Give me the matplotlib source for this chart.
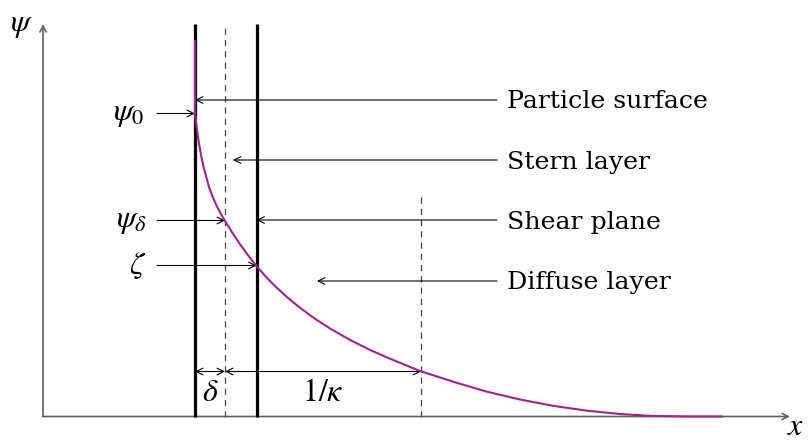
import matplotlib
matplotlib.use("Agg")
import matplotlib.pyplot as plt

plt.rcParams['font.family'] = ['DejaVu Serif', 'Liberation Serif']
plt.rcParams['mathtext.fontset'] = 'stix'

# ---- data (diagram units: x measured from the psi-axis, y above the x-axis) ----
curve_x = [152, 152, 152.8, 153.8, 155, 156.5, 158.3, 160.5, 163, 166, 169.5, 173.5,
           177.5, 182, 189, 197, 205, 213, 222, 232, 244, 257, 272, 287, 307,
           327, 347, 377, 410, 444, 477, 510, 544, 577, 610, 647, 680]
curve_y = [376.5, 303.5, 296.5, 288.5, 279.5, 270, 260, 250, 240.5, 229.5, 220, 211,
           203.2, 195.5, 184.3, 172.3, 161.3, 151.1, 140.7, 130.4, 119.4, 108.7, 97.7, 88, 76.6,
           66.6, 57.8, 45.5, 34.8, 24.8, 17, 10.7, 5.8, 2.5, 0.5, 0, 0]

surface_x = 152     # particle surface
stern_x = 182       # Stern plane (delta)
shear_x = 213.5     # shear plane
debye_x = 378       # delta + 1/kappa

psi0 = 303
psi_delta = 196
zeta = 151
psi_debye = 45

right_labels = ['Particle surface', 'Stern layer', 'Shear plane', 'Diffuse layer']
right_label_y = [316.5, 256.5, 196.5, 135.5]
right_label_target = [surface_x, 190, shear_x, 274]

left_labels = [r'$\psi_0$', r'$\psi_\delta$', r'$\zeta$']
left_label_y = [psi0, psi_delta, zeta]
left_label_target = [surface_x, stern_x, shear_x]
left_label_cx = [86, 88.5, 94.5]

fig = plt.figure(figsize=(8.09, 4.42), dpi=100)
ax = fig.add_axes([0, 0, 1, 1])
ax.set_xlim(-43, 766)
ax.set_ylim(-25.5, 416.5)
ax.axis('off')

axis_col = '#606060'
# axes
ax.annotate('', xy=(0, 392.5), xytext=(0, 0),
            arrowprops=dict(arrowstyle='->', lw=1.2, color=axis_col,
                            shrinkA=0, shrinkB=0, mutation_scale=11))
ax.annotate('', xy=(747, 0), xytext=(0, 0),
            arrowprops=dict(arrowstyle='->', lw=1.2, color=axis_col,
                            shrinkA=0, shrinkB=0, mutation_scale=11))
ax.text(-21, 392.5, r'$\psi$', fontsize=23, ha='center', va='center')
ax.text(753, -10, r'$x$', fontsize=23, ha='center', va='center')

# planes
ax.plot([surface_x, surface_x], [0, 392.5], color='black', lw=2.3, solid_capstyle='butt', zorder=3)
ax.plot([shear_x, shear_x], [0, 392.5], color='black', lw=2.3, solid_capstyle='butt', zorder=3)
ax.plot([stern_x, stern_x], [0, 392.5], color='#444444', lw=0.9, ls=(0, (5, 4)), zorder=2)
ax.plot([debye_x, debye_x], [0, 224], color='#444444', lw=0.9, ls=(0, (5, 4)), zorder=2)

# potential curve
ax.plot(curve_x, curve_y, color='#A3218E', lw=1.5, zorder=5,
        solid_joinstyle='round', solid_capstyle='butt')

arrow_kw = dict(arrowstyle='->', lw=0.8, color='black', shrinkA=0, shrinkB=0, mutation_scale=12)

# right labels
for lab, y, tx in zip(right_labels, right_label_y, right_label_target):
    ax.annotate('', xy=(tx, y), xytext=(454, y), arrowprops=arrow_kw, zorder=4)
    ax.text(464, y - 8.5, lab, fontsize=18.2, ha='left', va='baseline')

# left labels
for lab, y, tx, cx in zip(left_labels, left_label_y, left_label_target, left_label_cx):
    ax.annotate('', xy=(tx, y), xytext=(114, y), arrowprops=arrow_kw, zorder=4)
    ax.text(cx, y, lab, fontsize=23, ha='center', va='center')

# dimension arrows
dim_kw = dict(arrowstyle='<->', lw=0.8, color='black', shrinkA=0, shrinkB=0, mutation_scale=12)
ax.annotate('', xy=(stern_x, psi_debye), xytext=(surface_x, psi_debye), arrowprops=dim_kw, zorder=4)
ax.annotate('', xy=(debye_x, psi_debye), xytext=(stern_x, psi_debye), arrowprops=dim_kw, zorder=4)
ax.text((surface_x + stern_x) / 2, 24, r'$\delta$', fontsize=23, ha='center', va='center')
ax.text((stern_x + debye_x) / 2, 24, r'$1/\kappa$', fontsize=23, ha='center', va='center')

fig.savefig('out.png', dpi=100)
